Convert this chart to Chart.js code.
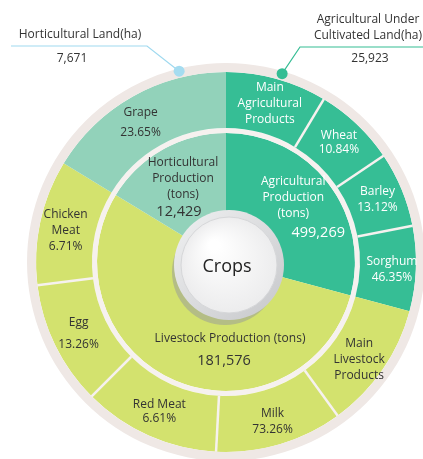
<!DOCTYPE html>
<html>
<head>
<meta charset="utf-8">
<script src="https://cdn.jsdelivr.net/npm/chart.js@4"></script>
<style>
  html, body { margin: 0; padding: 0; background: #fff; overflow: hidden; }
  #wrap { position: relative; width: 423px; height: 459px; overflow: hidden; }
  #chart { position: absolute; left: 0; top: 0; }
</style>
</head>
<body>
<div id="wrap"><canvas id="chart" width="452" height="524"></canvas></div>
<script>
// Data (arc sizes in degrees, as drawn)
const innerCategories = ['Agricultural\nProduction\n(tons)', 'Livestock Production (tons)', 'Horticultural\nProduction\n(tons)'];
const innerValues = ['499,269', '181,576', '12,429'];
const innerArc = [105, 196.3, 58.7];

const outerCategories = ['Main\nAgricultural\nProducts', 'Wheat', 'Barley', 'Sorghum', 'Main\nLivestock\nProducts',
                         'Milk', 'Red Meat', 'Egg', 'Chicken\nMeat', 'Grape'];
const outerShares = ['', '10.84%', '13.12%', '46.35%', '', '73.26%', '6.61%', '13.26%', '6.71%', '23.65%'];
const outerArc = [31, 25, 23, 26, 39, 39, 42, 38, 38.3, 58.7];
const outerGroup = [0, 0, 0, 0, 1, 1, 1, 1, 1, 2];

const landLabels = ['Horticultural Land(ha)', 'Agricultural Under\nCultivated Land(ha)'];
const landValues = ['7,671', '25,923'];
const centerLabel = 'Crops';

// Styling
const FONT = '"Open Sans", "Noto Sans", sans-serif';
const groupColors = ['#36be95', '#d3e26e', '#92d2ba'];
const groupText = ['#ffffff', '#333333', '#333333'];
const ringGray = '#efe8e5';
const gapWhite = '#f6f1ef';

// label tweaks for outer ring: line gap and small nudges
const outerGap = { 'Grape': 20, 'Egg': 22, 'Wheat': 14, 'Red Meat': 14 };
const outerNudge = { 'Grape': [-5, 4], 'Chicken\nMeat': [0, 3], 'Main\nLivestock\nProducts': [-2, 5], 'Sorghum': [2, 2], 'Milk': [0, 2] };
// inner label anchors: angle (deg, clockwise from top), radius, number offset
const innerPlace = [
    { angle: 46.3, r: 93, ndx: 25, ndy: 35 },
    { angle: 177, r: 77, ndx: -6, ndy: 22 },
    { angle: -27.4, r: 93.5, ndx: -4, ndy: 33 }
];
// land annotations: dot angle, leader line, text positions
const landPlace = [
    { angle: -13.8, color: '#9fd9ef', dot: '#a5dcf0', line: [[11, 46], [147, 46]], text: [80, 35], value: [72, 59] },
    { angle: 16.6, color: '#35bd94', dot: '#35bd94', line: [[423, 47], [300, 47]], text: [368, 20], value: [370, 59] }
];

const deg = Math.PI / 180;

function drawLines(ctx, lines, x, y, gap) {
    const top = y - (lines.length - 1) * gap / 2;
    lines.forEach((t, i) => ctx.fillText(t, x, top + i * gap));
}

const decorPlugin = {
    id: 'decor',
    afterDatasetsDraw(chart) {
        const ctx = chart.ctx;
        const grayArc = chart.getDatasetMeta(0).data[0];
        const outerMeta = chart.getDatasetMeta(1);
        const innerMeta = chart.getDatasetMeta(3);
        const cx = grayArc.x, cy = grayArc.y;

        ctx.save();

        // dividers inside the same colour group
        ctx.strokeStyle = gapWhite;
        ctx.lineWidth = 2.5;
        outerMeta.data.forEach((arc, i) => {
            if (i === 0 || outerGroup[i] !== outerGroup[i - 1]) return;
            const a = arc.startAngle;
            ctx.beginPath();
            ctx.moveTo(cx + arc.innerRadius * Math.cos(a), cy + arc.innerRadius * Math.sin(a));
            ctx.lineTo(cx + arc.outerRadius * Math.cos(a), cy + arc.outerRadius * Math.sin(a));
            ctx.stroke();
        });

        // outer labels
        ctx.textAlign = 'center';
        ctx.textBaseline = 'middle';
        outerMeta.data.forEach((arc, i) => {
            const mid = (arc.startAngle + arc.endAngle) / 2;
            const r = (arc.innerRadius + arc.outerRadius) / 2 + 2;
            const nudge = outerNudge[outerCategories[i]] || [0, 0];
            const x = cx + r * Math.cos(mid) + nudge[0];
            const y = cy + r * Math.sin(mid) + nudge[1];
            const lines = outerCategories[i].split('\n');
            if (outerShares[i]) lines.push(outerShares[i]);
            const gap = outerGap[outerCategories[i]] || 16;
            ctx.fillStyle = groupText[outerGroup[i]];
            ctx.font = '12px ' + FONT;
            drawLines(ctx, lines, x, y, gap);
        });

        // inner labels
        innerMeta.data.forEach((arc, i) => {
            const p = innerPlace[i];
            const x = cx + p.r * Math.sin(p.angle * deg);
            const y = cy - p.r * Math.cos(p.angle * deg);
            const lines = innerCategories[i].split('\n');
            ctx.fillStyle = groupText[i];
            ctx.font = '12px ' + FONT;
            drawLines(ctx, lines, x, y, 16);
            ctx.font = '14.5px ' + FONT;
            ctx.fillText(innerValues[i], x + p.ndx, y + p.ndy);
        });

        // centre button
        const bx = cx + 3, by = cy + 3;
        ctx.fillStyle = 'rgba(150,151,155,0.5)';
        ctx.beginPath(); ctx.arc(bx - 4, by + 7, 53, 0, Math.PI * 2); ctx.fill();
        let g = ctx.createLinearGradient(bx - 50, by - 50, bx + 50, by + 50);
        g.addColorStop(0, '#eeeff0');
        g.addColorStop(1, '#c8c9cc');
        ctx.fillStyle = g;
        ctx.beginPath(); ctx.arc(bx, by, 55, 0, Math.PI * 2); ctx.fill();
        g = ctx.createRadialGradient(bx - 15, by - 20, 5, bx, by, 49);
        g.addColorStop(0, '#ffffff');
        g.addColorStop(1, '#ececed');
        ctx.fillStyle = g;
        ctx.beginPath(); ctx.arc(bx, by, 48, 0, Math.PI * 2); ctx.fill();
        ctx.strokeStyle = '#d6d7d9';
        ctx.lineWidth = 1;
        ctx.stroke();
        ctx.fillStyle = '#222';
        ctx.font = '18px ' + FONT;
        ctx.fillText(centerLabel, cx + 1, cy + 5);

        // land annotations
        landPlace.forEach((p, i) => {
            const r = (grayArc.innerRadius + grayArc.outerRadius) / 2 + 2;
            const dx = cx + r * Math.sin(p.angle * deg);
            const dy = cy - r * Math.cos(p.angle * deg);
            ctx.strokeStyle = p.color;
            ctx.lineWidth = 1.2;
            ctx.beginPath();
            ctx.moveTo(p.line[0][0], p.line[0][1]);
            ctx.lineTo(p.line[1][0], p.line[1][1]);
            ctx.lineTo(dx, dy);
            ctx.stroke();
            ctx.fillStyle = p.dot;
            ctx.beginPath(); ctx.arc(dx, dy, 5.5, 0, Math.PI * 2); ctx.fill();
            ctx.fillStyle = '#333';
            ctx.font = '12px ' + FONT;
            landLabels[i].split('\n').forEach((t, k) => ctx.fillText(t, p.text[0], p.text[1] + k * 16));
            ctx.fillText(landValues[i], p.value[0], p.value[1]);
        });

        ctx.restore();
    }
};

new Chart(document.getElementById('chart'), {
    type: 'doughnut',
    data: {
        labels: outerCategories,
        datasets: [
            { data: [360], backgroundColor: [ringGray], borderWidth: 0, weight: 9 },
            { data: outerArc, backgroundColor: outerGroup.map(g => groupColors[g]), borderWidth: 0, weight: 56 },
            { data: [360], backgroundColor: [gapWhite], borderWidth: 0, weight: 5 },
            { data: innerArc, backgroundColor: groupColors, borderWidth: 0, weight: 79 }
        ]
    },
    options: {
        responsive: false,
        animation: false,
        radius: 199,
        cutout: '25.13%',
        layout: { padding: 0 },
        plugins: {
            legend: { display: false },
            tooltip: { enabled: false }
        },
        events: []
    },
    plugins: [decorPlugin]
});
</script>
</body>
</html>
